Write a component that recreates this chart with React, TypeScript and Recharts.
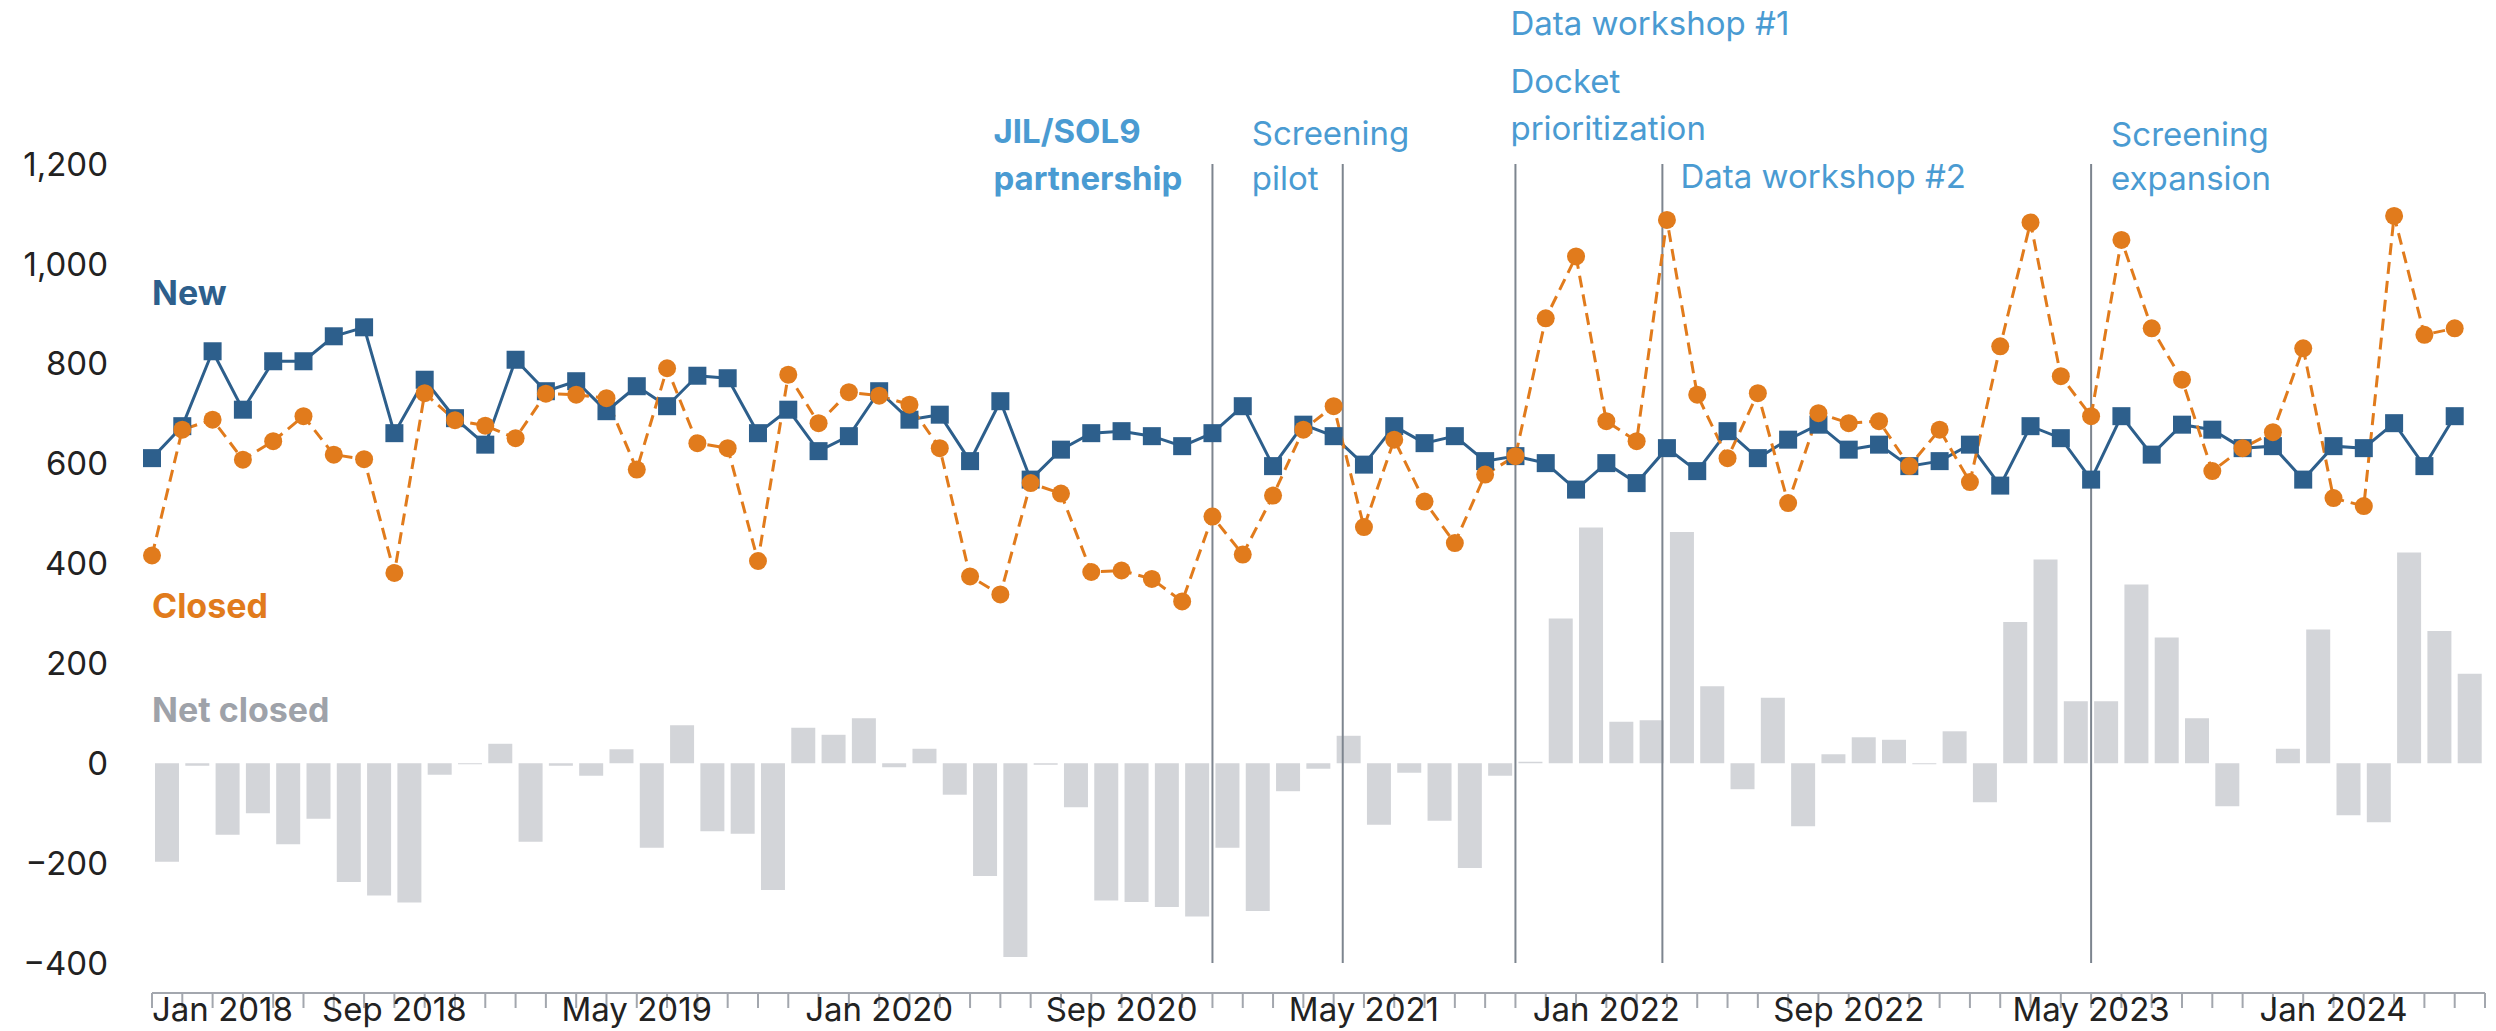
import { ComposedChart, Bar, Line, XAxis, YAxis, ReferenceLine } from 'recharts';

// monthly series, Jan 2018 .. May 2024 (index 0 = Jan 2018)
const newCases = [
  611, 675, 825, 708, 805, 805, 855, 873, 661, 768, 691, 638, 808, 745, 765, 705,
  755, 715, 776, 771, 661, 708, 625, 655, 745, 688, 698, 605, 725, 568, 628, 661,
  665, 655, 635, 661, 715, 595, 678, 655, 598, 675, 641, 655, 605, 615, 601, 548,
  601, 561, 631, 585, 665, 611, 648, 678, 628, 638, 595, 605, 638, 556, 675, 651,
  568, 695, 618, 678, 668, 631, 635, 568, 635, 631, 681, 595, 695,
];

const closedCases = [
  416, 668, 688, 608, 645, 695, 618, 609, 381, 741, 687, 676, 651, 740, 738, 731,
  588, 791, 641, 631, 405, 778, 681, 743, 736, 718, 631, 374, 338, 561, 540, 383,
  386, 369, 324, 494, 418, 536, 668, 715, 473, 648, 524, 441, 578, 615, 891, 1015,
  685, 645, 1088, 738, 611, 741, 521, 701, 681, 685, 595, 668, 563, 835, 1083, 775,
  695, 1048, 871, 768, 585, 631, 663, 831, 531, 515, 1096, 858, 871,
];

const netClosed = [
  -197, -5, -143, -100, -162, -111, -238, -265, -279, -23, -2, 39, -157, -5, -25, 28,
  -169, 76, -136, -141, -254, 71, 57, 90, -8, 29, -63, -226, -388, -3, -88, -275,
  -278, -288, -307, -169, -296, -56, -11, 55, -123, -19, -115, -210, -25, 3, 290, 472,
  83, 86, 463, 154, -52, 131, -126, 18, 52, 47, -2, 64, -78, 283, 408, 124,
  124, 358, 252, 90, -86, 0, 29, 268, -104, -118, 422, 265, 179,
];

const labelMonths = [0, 8, 16, 24, 32, 40, 48, 56, 64, 72];
const labelTexts = [
  'Jan 2018', 'Sep 2018', 'May 2019', 'Jan 2020', 'Sep 2020',
  'May 2021', 'Jan 2022', 'Sep 2022', 'May 2023', 'Jan 2024',
];
const lastMonth = 77; // Jun 2024, end of axis
const yTicks = [-400, -200, 0, 200, 400, 600, 800, 1000, 1200];

// event markers (month index) and their captions
const eventMonths = [35, 39.3, 45, 49.85, 64];
const eventCaptions = [
  ['JIL/SOL9', 'partnership'],
  ['Screening', 'pilot'],
  ['Data workshop #1', 'Docket', 'prioritization'],
  ['Data workshop #2'],
  ['Screening', 'expansion'],
];

const BLUE = '#2d5f8c';
const ORANGE = '#e17b1c';
const BAR = '#d3d5d9';
const NOTE = '#4a9bd2';
const FONT = 'Inter, "Noto Sans", sans-serif';

// caption layout: x offset from the line, baselines of each row
const captionLayout = [
  { dx: -219, rows: [143, 190], bold: true },
  { dx: -91, rows: [145, 190], bold: false },
  { dx: -5, rows: [35, 93, 140], bold: false },
  { dx: 18, rows: [188], bold: false },
  { dx: 20, rows: [146, 190], bold: false },
];

const data = newCases.map((v, i) => ({
  idx: i,
  mid: i + 0.5,
  newCases: v,
  closed: closedCases[i],
  net: netClosed[i],
}));

const monthTicks = Array.from({ length: lastMonth + 1 }, (_, i) => i);

const MonthTick = (props: any) => {
  const { x, y, payload } = props;
  const k = labelMonths.indexOf(payload.value);
  if (k < 0) return <g />;
  return (
    <text
      x={x}
      y={y + 11}
      textAnchor={k === 0 ? 'start' : 'middle'}
      fontSize={33}
      fontFamily={FONT}
      fill="#222"
    >
      {labelTexts[k]}
    </text>
  );
};

const Square = (p: any) => (
  <rect key={`sq-${p.index}`} x={p.cx - 9} y={p.cy - 9} width={18} height={18} fill={BLUE} />
);

const caption = (n: number) => (p: any) => {
  const vb = p.viewBox || {};
  const lay = captionLayout[n];
  return (
    <g>
      {eventCaptions[n].map((t, j) => (
        <text
          key={j}
          x={vb.x + lay.dx}
          y={lay.rows[j]}
          fontSize={33}
          fontFamily={FONT}
          fontWeight={lay.bold ? 700 : 400}
          fill={NOTE}
        >
          {t}
        </text>
      ))}
    </g>
  );
};

export default function App() {
  return (
    <div style={{ position: 'absolute', left: 0, top: 0, background: '#fff' }}>
      <ComposedChart
        width={2496}
        height={1031}
        data={data}
        margin={{ top: 164, right: 11, bottom: 0, left: 0 }}
      >
        <XAxis
          xAxisId="m"
          dataKey="idx"
          type="number"
          domain={[0, lastMonth]}
          ticks={monthTicks}
          interval={0}
          height={68}
          tickSize={15}
          tickMargin={2}
          axisLine={{ stroke: '#a3a7ae', strokeWidth: 2 }}
          tickLine={{ stroke: '#a3a7ae', strokeWidth: 2 }}
          tick={<MonthTick />}
        />
        <XAxis xAxisId="bars" dataKey="mid" type="number" domain={[0, lastMonth]} hide />
        <YAxis
          domain={[-400, 1200]}
          ticks={yTicks}
          width={152}
          axisLine={false}
          tickLine={false}
          tickSize={0}
          tickMargin={44}
          tick={{ fontSize: 33, fontFamily: FONT, fill: '#222' }}
          tickFormatter={(v: number) => v.toLocaleString('en-US').replace('-', '\u2212')}
        />
        <Bar
          xAxisId="bars"
          dataKey="net"
          fill={BAR}
          barSize={24}
          isAnimationActive={false}
        />
        {eventMonths.map((m, n) => (
          <ReferenceLine
            key={n}
            xAxisId="m"
            x={m}
            stroke="#7d858f"
            strokeWidth={2}
            ifOverflow="visible"
            label={caption(n)}
          />
        ))}
        <Line
          xAxisId="m"
          dataKey="newCases"
          stroke={BLUE}
          strokeWidth={3}
          dot={Square}
          activeDot={false}
          isAnimationActive={false}
        />
        <Line
          xAxisId="m"
          dataKey="closed"
          stroke={ORANGE}
          strokeWidth={3}
          strokeDasharray="12 7"
          dot={{ r: 9, fill: ORANGE, stroke: 'none' }}
          activeDot={false}
          isAnimationActive={false}
        />
        <text x={152} y={305} fontSize={34} fontWeight={700} fontFamily={FONT} fill={BLUE}>
          New
        </text>
        <text x={152} y={618} fontSize={34} fontWeight={700} fontFamily={FONT} fill={ORANGE}>
          Closed
        </text>
        <text x={152} y={722} fontSize={34} fontWeight={700} fontFamily={FONT} fill="#9ea2a9">
          Net closed
        </text>
      </ComposedChart>
    </div>
  );
}
